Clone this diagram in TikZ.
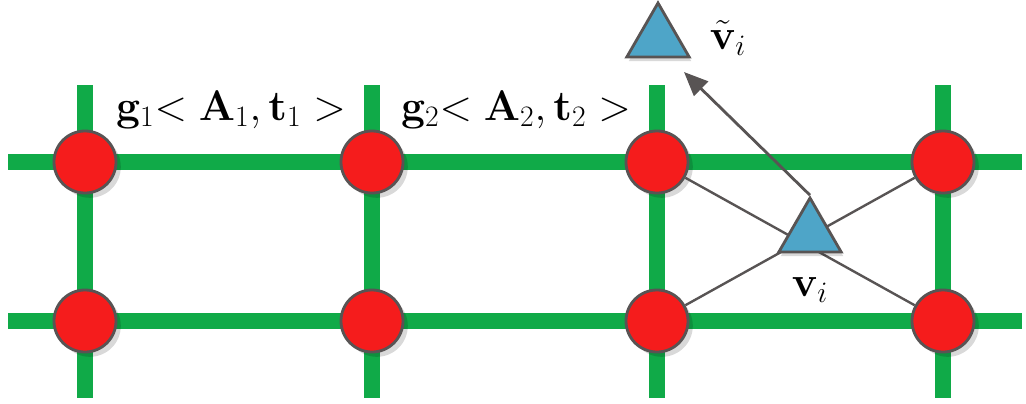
\documentclass[tikz,border=0pt]{standalone}
\usepackage{amsmath,bm}
\usepackage{xcolor}
\usetikzlibrary{arrows.meta,shapes.geometric,shadows}

\definecolor{gridgreen}{RGB}{16,170,72}
\definecolor{sitered}{RGB}{245,28,28}
\definecolor{edgegray}{RGB}{88,84,84}
\definecolor{vecblue}{RGB}{78,165,200}
\newcommand{\biglab}[1]{\scalebox{1.22}{#1}}

\begin{document}
\begin{tikzpicture}[x=0.025cm,y=-0.025cm,
  grid/.style={line width=12pt,gridgreen},
  site/.style={circle,draw=edgegray,line width=2pt,fill=sitered,minimum size=1.55cm,inner sep=0pt,
    drop shadow={shadow xshift=0.12cm,shadow yshift=-0.12cm,fill=black,opacity=0.15}},
  vec/.style={regular polygon,regular polygon sides=3,draw=edgegray,line width=2pt,fill=vecblue,minimum size=1.8cm,inner sep=0pt,
    drop shadow={shadow xshift=0.05cm,shadow yshift=-0.1cm,fill=black,opacity=0.15}},
  link/.style={edgegray,line width=1.7pt},
  lab/.style={font=\fontsize{24}{28}\selectfont,inner sep=0pt}]
\useasboundingbox (0,0) rectangle (1026,403);

\foreach \x in {85,372,657,943} \draw[grid] (\x,85) -- (\x,398);
\foreach \y in {162,321} \draw[grid] (8,\y) -- (1022,\y);

\foreach \x [count=\i] in {85,372,657,943} {
  \node[site] (a\i) at (\x,162) {};
  \node[site] (b\i) at (\x,321) {};
}

\draw[link] (a3) -- (b4);
\draw[link] (a4) -- (b3);

\node[vec] (v) at (810,234) {};
\node[vec] (vt) at (658,39) {};
\coordinate (tip) at (684,72);
\draw[link,line width=2pt,-{Triangle[length=0.6cm,width=0.5cm]}] (v.corner 1) -- (tip);

\node[lab] (g1) at (231,110) {\biglab{$\mathbf{g}_1{<}\;\mathbf{A}_1,\mathbf{t}_1\;{>}$}};
\node[lab] (g2) at (516,110) {\biglab{$\mathbf{g}_2{<}\;\mathbf{A}_2,\mathbf{t}_2\;{>}$}};
\node[lab] (vtl) at (728,38) {\biglab{$\tilde{\mathbf{v}}_i$}};
\node[lab] (vl) at (810,290) {\biglab{$\mathbf{v}_i$}};
\end{tikzpicture}
\end{document}
